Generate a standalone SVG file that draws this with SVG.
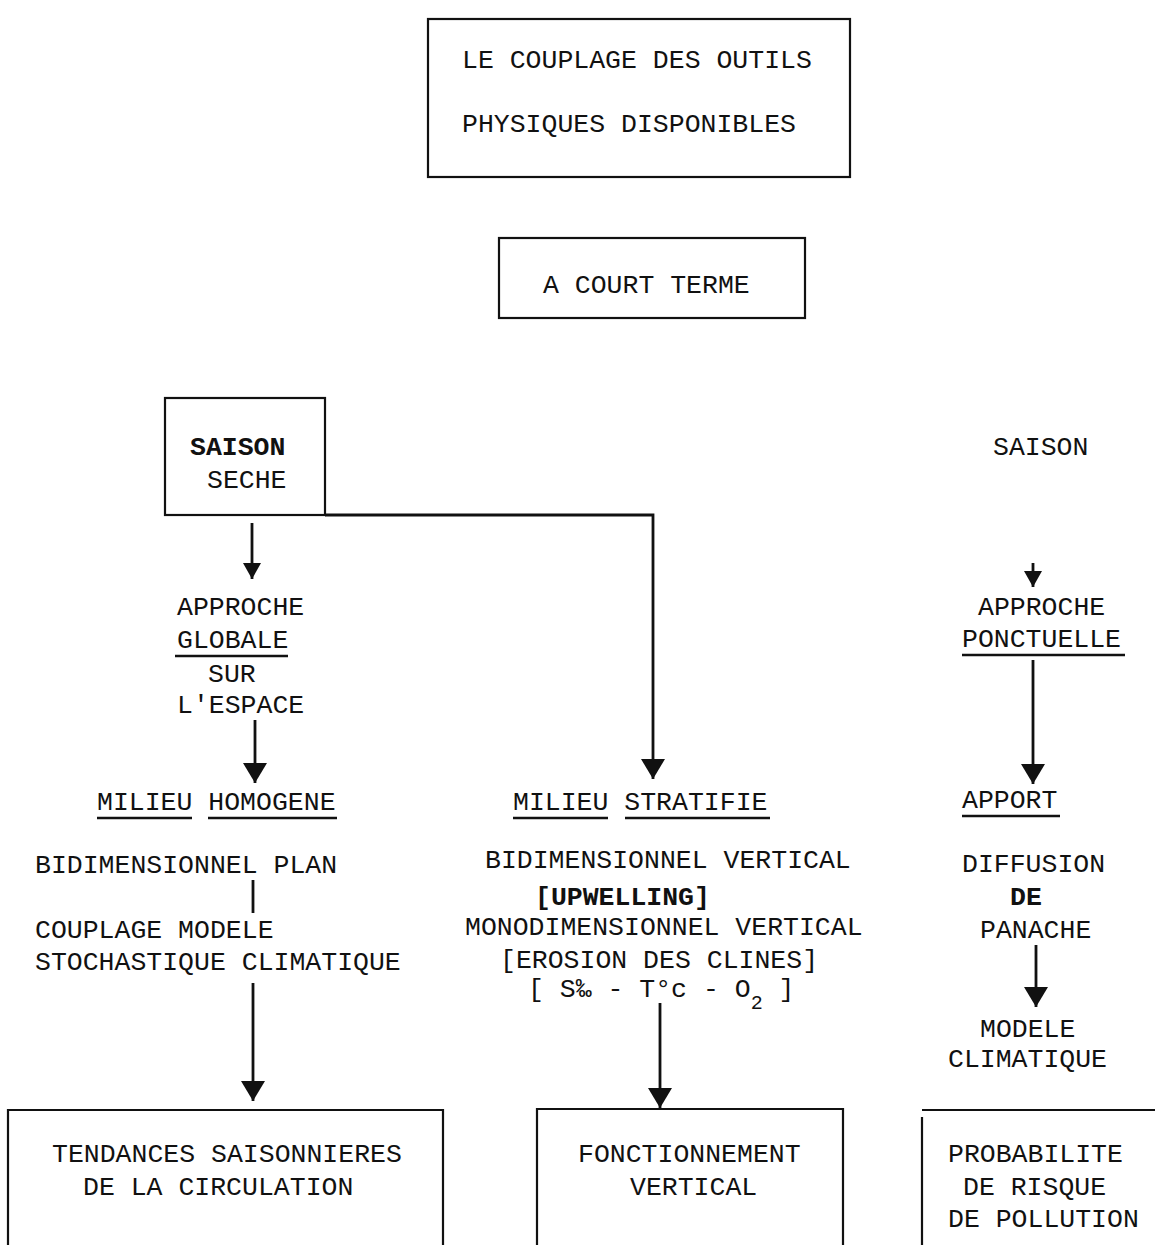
<svg xmlns="http://www.w3.org/2000/svg" width="1155" height="1245" viewBox="0 0 1155 1245">
<style>
text{font-family:"Liberation Mono","Courier New",monospace;font-size:26.5px;fill:#111;}
.b{font-weight:bold;}
.box{fill:none;stroke:#111;stroke-width:2.2;}
.ln{fill:none;stroke:#111;stroke-width:2.8;}
.ul{stroke:#111;stroke-width:2.4;}
</style>
<defs>
<marker id="ah" markerUnits="userSpaceOnUse" markerWidth="22" markerHeight="26" refX="20" refY="12" orient="auto" viewBox="0 0 22 26">
<path d="M0,0 L20,12 L0,24 z" fill="#111"/>
</marker>
<marker id="ahs" markerUnits="userSpaceOnUse" markerWidth="18" markerHeight="20" refX="16" refY="9" orient="auto" viewBox="0 0 18 20">
<path d="M0,0 L16,9 L0,18 z" fill="#111"/>
</marker>
</defs>
<rect width="1155" height="1245" fill="#fff"/>

<g id="title">
<rect class="box" x="428" y="19" width="422" height="158"/>
<text x="462" y="68">LE COUPLAGE DES OUTILS</text>
<text x="462" y="132">PHYSIQUES DISPONIBLES</text>
</g>

<g id="court-terme">
<rect class="box" x="499" y="238" width="306" height="80"/>
<text x="543" y="293">A COURT TERME</text>
</g>

<g id="saison-seche">
<rect class="box" x="165" y="398" width="160" height="117"/>
<text class="b" x="190" y="455">SAISON</text>
<text x="207" y="488">SECHE</text>
</g>

<g id="saison">
<text x="993" y="455">SAISON</text>
</g>

<g id="approche-globale">
<text x="177" y="615">APPROCHE</text>
<text x="177" y="648">GLOBALE</text>
<line class="ul" x1="175" y1="656" x2="288" y2="656"/>
<text x="208" y="682">SUR</text>
<text x="177" y="713">L'ESPACE</text>
</g>

<g id="approche-ponctuelle">
<text x="978" y="615">APPROCHE</text>
<text x="962" y="647">PONCTUELLE</text>
<line class="ul" x1="962" y1="655" x2="1125" y2="655"/>
</g>

<g id="milieu-homogene">
<text x="97" y="810">MILIEU HOMOGENE</text>
<line class="ul" x1="97" y1="818" x2="192" y2="818"/>
<line class="ul" x1="208" y1="818" x2="337" y2="818"/>
<text x="35" y="873">BIDIMENSIONNEL PLAN</text>
<line class="ln" x1="253" y1="880" x2="253" y2="913"/>
<text x="35" y="938">COUPLAGE MODELE</text>
<text x="35" y="970">STOCHASTIQUE CLIMATIQUE</text>
</g>

<g id="milieu-stratifie">
<text x="513" y="810">MILIEU STRATIFIE</text>
<line class="ul" x1="513" y1="818" x2="608" y2="818"/>
<line class="ul" x1="625" y1="818" x2="770" y2="818"/>
<text x="485" y="868">BIDIMENSIONNEL VERTICAL</text>
<text class="b" x="535" y="905">[UPWELLING]</text>
<text x="465" y="935">MONODIMENSIONNEL VERTICAL</text>
<text x="500" y="968">[EROSION DES CLINES]</text>
<text x="528" y="997">[ S‰ - T°c - O<tspan baseline-shift="sub" font-size="20">2</tspan> ]</text>
</g>

<g id="apport">
<text x="962" y="808">APPORT</text>
<line class="ul" x1="962" y1="816" x2="1060" y2="816"/>
<text x="962" y="872">DIFFUSION</text>
<text class="b" x="1010" y="905">DE</text>
<text x="980" y="938">PANACHE</text>
<text x="980" y="1037">MODELE</text>
<text x="948" y="1067">CLIMATIQUE</text>
</g>

<g id="tendances">
<path class="box" d="M8,1245 V1110 H443 V1245"/>
<text x="52" y="1162">TENDANCES SAISONNIERES</text>
<text x="83" y="1195">DE LA CIRCULATION</text>
</g>

<g id="fonctionnement">
<path class="box" d="M537,1245 V1109 H843 V1245"/>
<text x="578" y="1162">FONCTIONNEMENT</text>
<text x="630" y="1195">VERTICAL</text>
</g>

<g id="probabilite">
<path class="box" d="M922,1245 V1117 M922,1110 H1155"/>
<text x="948" y="1162">PROBABILITE</text>
<text x="963" y="1195">DE RISQUE</text>
<text x="948" y="1227">DE POLLUTION</text>
</g>

<g id="connectors">
<line class="ln" x1="252" y1="523" x2="252" y2="579" marker-end="url(#ahs)"/>
<line class="ln" x1="255" y1="720" x2="255" y2="783" marker-end="url(#ah)"/>
<path class="ln" d="M325,515 H653 V779" marker-end="url(#ah)"/>
<line class="ln" x1="1033" y1="563" x2="1033" y2="587" marker-end="url(#ahs)"/>
<line class="ln" x1="1033" y1="660" x2="1033" y2="784" marker-end="url(#ah)"/>
<line class="ln" x1="1036" y1="945" x2="1036" y2="1007" marker-end="url(#ah)"/>
<line class="ln" x1="253" y1="983" x2="253" y2="1101" marker-end="url(#ah)"/>
<line class="ln" x1="660" y1="1003" x2="660" y2="1108" marker-end="url(#ah)"/>
</g>
</svg>
